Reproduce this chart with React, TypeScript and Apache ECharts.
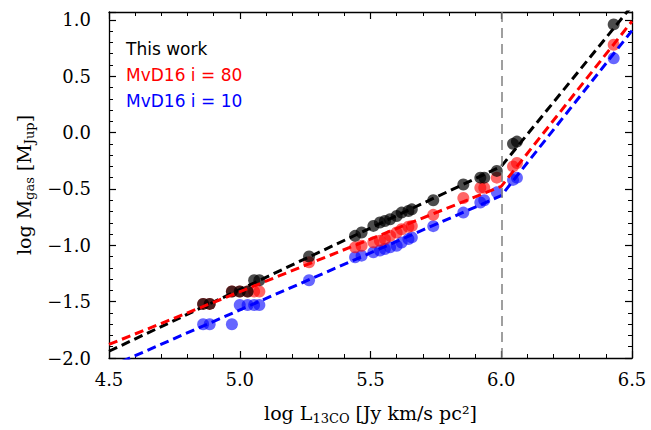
import React, { useEffect, useRef } from "react";
import * as echarts from "echarts";

// log L13CO for each disc
const logL = [4.86, 4.885, 4.97, 5.0, 5.03, 5.055, 5.075, 5.265, 5.441, 5.466, 5.511, 5.536, 5.555, 5.575, 5.6, 5.619, 5.645, 5.658, 5.74, 5.855, 5.92, 5.935, 5.983, 6.045, 6.06, 6.43];
// log Mgas, this work
const mThisWork = [-1.52, -1.52, -1.41, -1.41, -1.41, -1.31, -1.31, -1.1, -0.916, -0.886, -0.828, -0.798, -0.784, -0.769, -0.74, -0.71, -0.696, -0.681, -0.6, -0.46, -0.4, -0.4, -0.34, -0.1, -0.08, 0.96];
// log Mgas, MvD16 i = 80
const mI80 = [-1.52, -1.52, -1.41, -1.41, -1.41, -1.41, -1.41, -1.15, -1.018, -1.004, -0.974, -0.96, -0.945, -0.916, -0.886, -0.857, -0.835, -0.828, -0.73, -0.58, -0.49, -0.49, -0.4, -0.3, -0.27, 0.78];
// log Mgas, MvD16 i = 10
const mI10 = [-1.7, -1.7, -1.7, -1.53, -1.53, -1.53, -1.53, -1.31, -1.106, -1.092, -1.062, -1.047, -1.033, -1.018, -1.004, -0.975, -0.945, -0.93, -0.83, -0.71, -0.62, -0.6, -0.53, -0.42, -0.4, 0.66];

// broken-line relations
const fitX = [4.5, 6.0, 6.5];
const fitThisWork = [-1.94, -0.3, 1.125];
const fitI80 = [-1.88, -0.477, 0.988];
const fitI10 = [-2.081, -0.56, 0.905];

const xTicks = [4.5, 5.0, 5.5, 6.0, 6.5];
const yTicks = [-2.0, -1.5, -1.0, -0.5, 0.0, 0.5, 1.0];
const legendNames = ["This work", "MvD16 i = 80", "MvD16 i = 10"];

const SERIF = '"DejaVu Serif", serif';
const SANS = '"DejaVu Sans", sans-serif';

const pair = (xs: number[], ys: number[]) => xs.map((x, i) => [x, ys[i]]);

export default function App() {
  const ref = useRef<HTMLDivElement>(null);
  useEffect(() => {
    document.body.style.margin = "0";
    const chart = echarts.init(ref.current!, null, { renderer: "svg" });
    const fmt = (v: number) => {
      const hit = yTicks.concat(xTicks).some((t) => Math.abs(t - v) < 1e-6);
      if (!hit) return "";
      return v.toFixed(1).replace("-", "\u2212");
    };
    const axisCommon = {
      type: "value" as const,
      axisLine: { show: true, onZero: false, lineStyle: { color: "#000", width: 1.3 } },
      axisTick: { show: true, inside: true, length: 7, lineStyle: { color: "#000", width: 1.2 } },
      minorTick: { show: true, splitNumber: 5, length: 4, lineStyle: { color: "#000", width: 1 } },
      splitLine: { show: false },
      minorSplitLine: { show: false },
    };
    const richName = {
      r: { fontFamily: SERIF, fontSize: 19, color: "#000" },
      s: { fontFamily: SERIF, fontSize: 13, color: "#000", padding: [12, 0, 0, 0] },
    };
    const scatter = (name: string, ys: number[], color: string) => ({
      name,
      type: "scatter",
      xAxisIndex: 0,
      yAxisIndex: 0,
      symbolSize: 12,
      itemStyle: { color, opacity: color === "#000000" ? 0.7 : 0.6 },
      data: pair(logL, ys),
    });
    const fit = (name: string, ys: number[], color: string, extra: any = {}) => ({
      name,
      type: "line",
      xAxisIndex: 0,
      yAxisIndex: 0,
      symbol: "none",
      clip: true,
      lineStyle: { color, width: 3, type: [9, 5] },
      data: pair(fitX, ys),
      ...extra,
    });
    chart.setOption({
      animation: false,
      grid: { left: 109, right: 19, top: 12, bottom: 72 },
      xAxis: [
        {
          ...axisCommon,
          min: 4.5,
          max: 6.5,
          interval: 0.5,
          position: "bottom",
          axisLabel: { show: true, margin: 12, fontFamily: SERIF, fontSize: 18, color: "#000", formatter: fmt },
          name: "{r|log L}{s|13CO}{r| [Jy km/s pc\u00b2]}",
          nameLocation: "middle",
          nameGap: 42,
          nameTextStyle: { rich: richName },
        },
        {
          ...axisCommon,
          min: 4.5,
          max: 6.5,
          interval: 0.5,
          position: "top",
          axisLabel: { show: false },
        },
      ],
      yAxis: [
        {
          ...axisCommon,
          min: -2,
          max: 1.07,
          interval: 0.5,
          position: "left",
          axisLabel: { show: true, margin: 18, fontFamily: SERIF, fontSize: 18, color: "#000", formatter: fmt, showMaxLabel: false },
          name: "{r|log M}{s|gas}{r| [M}{s|Jup}{r|]}",
          nameLocation: "middle",
          nameRotate: 90,
          nameGap: 62,
          nameTextStyle: { rich: richName },
        },
        {
          ...axisCommon,
          min: -2,
          max: 1.07,
          interval: 0.5,
          position: "right",
          axisLabel: { show: false },
        },
      ],
      series: [
        scatter(legendNames[2], mI10, "#0000ff"),
        scatter(legendNames[1], mI80, "#ff0000"),
        scatter(legendNames[0], mThisWork, "#000000"),
        fit("fit This work", fitThisWork, "#000000", {
          markLine: {
            silent: true,
            symbol: ["none", "none"],
            label: { show: false },
            lineStyle: { color: "#808080", type: [10, 6], width: 1.5 },
            data: [{ xAxis: 6.0 }],
          },
        }),
        fit("fit i80", fitI80, "#ff0000"),
        fit("fit i10", fitI10, "#0000ff"),
      ],
      graphic: [
        { type: "text", left: 126, top: 40, style: { text: legendNames[0], fill: "#000", font: `17px ${SANS}` } },
        { type: "text", left: 126, top: 66, style: { text: legendNames[1], fill: "#ff0000", font: `17px ${SANS}` } },
        { type: "text", left: 126, top: 92, style: { text: legendNames[2], fill: "#0000ff", font: `17px ${SANS}` } },
      ],
    });
    return () => chart.dispose();
  }, []);
  return <div ref={ref} style={{ width: 651, height: 430 }} />;
}
